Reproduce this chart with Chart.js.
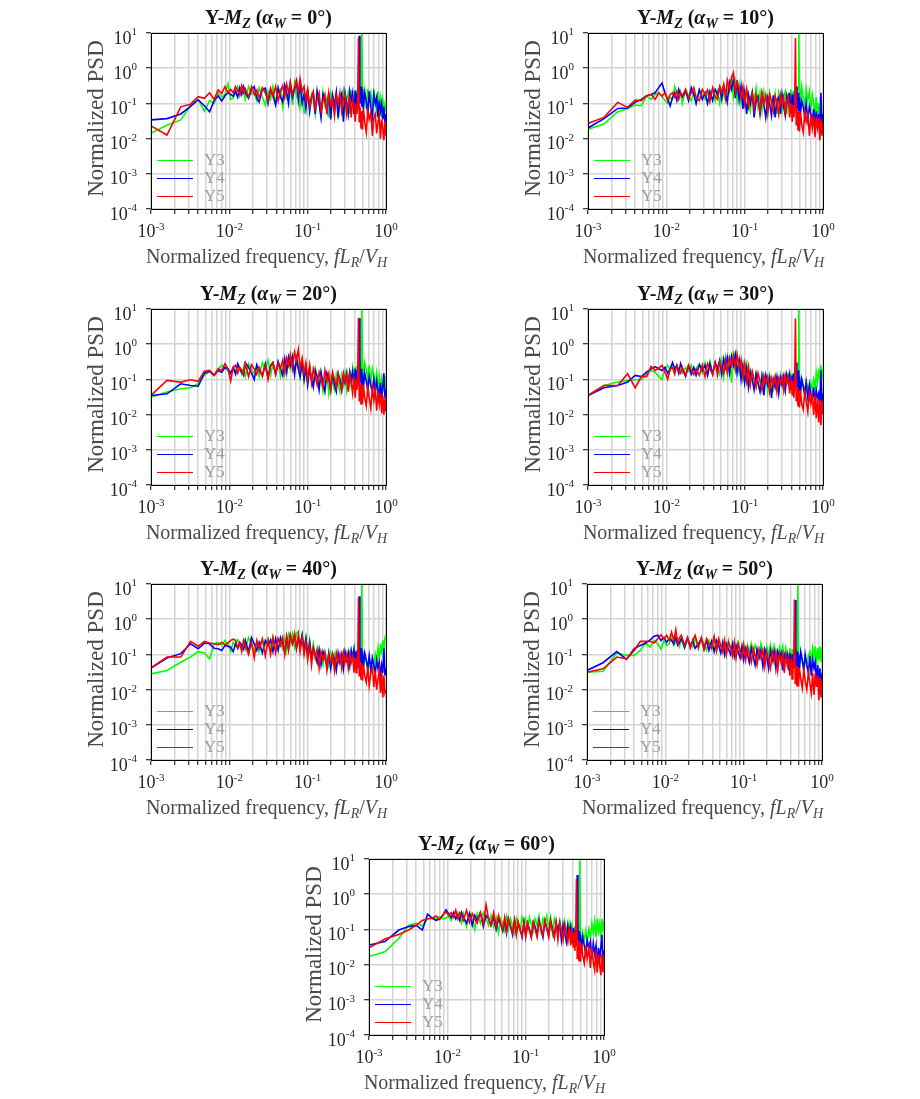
<!DOCTYPE html>
<html><head><meta charset="utf-8">
<script src="https://cdn.jsdelivr.net/npm/chart.js@4.4.0/dist/chart.umd.min.js"></script>
<style>
html,body{margin:0;padding:0;background:#fff;overflow:hidden;}
#wrap{position:relative;width:920px;height:1099px;}
canvas{position:absolute;}
</style></head><body><div id="wrap"></div>
<script>
// ---------- DATA ----------
const freq = [0.001,0.0016,0.0024,0.0032,0.004,0.0048,0.0056,0.0064,0.0072,0.008,
0.0088,0.0096,0.0104,0.0112,0.012,0.0128,0.0136,0.0144,0.0152,0.016,
0.0176,0.0192,0.0208,0.0224,0.024,0.0264,0.0288,0.0312,0.0336,0.036,
0.039,0.042,0.045,0.048,0.051,0.054,0.057,0.06,0.064,0.068,
0.072,0.076,0.08,0.085,0.09,0.095,0.1,0.106,0.112,0.118,
0.125,0.132,0.14,0.148,0.157,0.166,0.176,0.186,0.197,0.208,
0.22,0.232,0.245,0.258,0.272,0.286,0.3,0.315,0.33,0.345,
0.36,0.375,0.39,0.405,0.415,0.425,0.435,0.445,0.455,0.465,
0.48,0.49,0.5,0.515,0.535,0.56,0.585,0.61,0.64,0.67,
0.7,0.73,0.76,0.79,0.82,0.85,0.88,0.91,0.94,0.97,1.0];

const seriesLabels = ['Y3','Y4','Y5'];
const angles = [0,10,20,30,40,50,60];
const xTickValues = [0.001,0.002,0.003,0.004,0.005,0.006,0.007,0.008,0.009,0.01,0.02,0.03,0.04,0.05,0.06,0.07,0.08,0.09,0.1,0.2,0.3,0.4,0.5,0.6,0.7,0.8,0.9,1];
const xTickExps = [-3,-2,-1,0];
const yTickExps = [-4,-3,-2,-1,0,1];

// alpha_W = 0
const Y3_0 = [0.0144,0.024,0.034,0.085,0.13,0.06,0.12,0.1,0.2,0.15,0.18,0.36,0.13,0.14,
0.2,0.3,0.16,0.22,0.26,0.13,0.3,0.18,0.2,0.12,0.28,0.15,0.09,0.22,0.13,0.3,
0.1,0.2,0.25,0.08,0.28,0.14,0.18,0.35,0.09,0.38,0.16,0.22,0.08,0.25,0.05,0.14,0.2,
0.07,0.18,0.12,0.05,0.2,0.1,0.045,0.21,0.09,0.14,0.04,0.19,0.11,0.06,0.2,0.035,0.15,0.1,0.22,0.06,0.13,0.2,0.05,0.24,0.11,0.07,0.23,
0.1,0.25,0.08,0.18,0.3,0.12,0.28,10,0.3,
0.14,0.24,0.07,0.26,0.12,0.2,0.08,0.25,0.1,0.06,0.22,0.09,0.15,0.04,0.12,0.07,0.1,0.06];
const Y4_0 = [0.034,0.037,0.05,0.082,0.127,0.086,0.058,0.12,0.165,0.117,0.165,0.2,0.18,0.16,
0.22,0.15,0.28,0.18,0.3,0.2,0.14,0.25,0.3,0.14,0.11,0.25,0.27,0.1,0.24,0.17,
0.09,0.28,0.15,0.11,0.33,0.2,0.1,0.36,0.15,0.25,0.42,0.12,0.35,0.1,0.18,0.07,0.25,
0.06,0.15,0.2,0.05,0.22,0.1,0.04,0.18,0.12,0.06,0.2,0.035,0.17,0.09,0.21,0.04,0.13,0.19,0.03,0.2,0.1,0.05,0.22,0.12,0.2,0.05,0.23,
0.06,0.2,0.1,0.3,8.4,0.1,0.3,0.08,0.25,
0.07,0.2,0.12,0.05,0.22,0.08,0.04,0.18,0.1,0.15,0.04,0.12,0.06,0.1,0.035,0.08,0.03,0.05];
const Y5_0 = [0.023,0.0126,0.08,0.095,0.155,0.14,0.2,0.13,0.24,0.19,0.3,0.2,0.25,0.2,
0.3,0.22,0.18,0.32,0.2,0.26,0.15,0.3,0.18,0.24,0.14,0.28,0.2,0.12,0.27,0.16,
0.3,0.12,0.22,0.32,0.15,0.35,0.2,0.4,0.18,0.28,0.45,0.2,0.5,0.22,0.3,0.12,0.25,
0.08,0.15,0.22,0.07,0.13,0.2,0.06,0.12,0.18,0.05,0.2,0.09,0.13,0.045,0.17,0.1,0.2,0.06,0.14,0.18,0.05,0.11,0.15,0.04,0.12,0.08,0.03,
0.1,0.05,0.09,7.2,0.03,0.08,0.02,0.06,0.018,
0.07,0.03,0.015,0.06,0.035,0.055,0.012,0.04,0.05,0.014,0.03,0.045,0.01,0.035,0.02,0.009,0.03,0.012];

// alpha_W = 10
const Y3_10 = [0.0186,0.026,0.058,0.07,0.09,0.086,0.16,0.13,0.18,0.2,0.16,0.12,0.1,0.15,
0.13,0.3,0.2,0.15,0.22,0.1,0.25,0.17,0.12,0.2,0.1,0.25,0.18,0.13,0.22,0.11,
0.26,0.12,0.22,0.1,0.25,0.18,0.12,0.3,0.2,0.45,0.15,0.4,0.12,0.35,0.1,0.2,0.15,
0.25,0.1,0.06,0.2,0.13,0.28,0.08,0.2,0.06,0.22,0.12,0.05,0.2,0.1,0.07,0.18,0.05,0.2,0.12,0.06,0.17,0.22,0.05,0.2,0.1,0.25,0.06,
0.22,0.08,0.26,0.12,0.3,0.1,0.25,10,0.35,
0.1,0.3,0.15,0.08,0.25,0.12,0.22,0.06,0.18,0.1,0.05,0.15,0.035,0.1,0.05,0.06,0.03,0.05];
const Y4_10 = [0.02,0.037,0.072,0.074,0.107,0.13,0.165,0.18,0.2,0.28,0.38,0.2,0.13,0.085,
0.15,0.2,0.12,0.25,0.18,0.15,0.22,0.12,0.28,0.18,0.1,0.24,0.13,0.2,0.1,0.22,
0.12,0.25,0.18,0.28,0.13,0.32,0.2,0.11,0.4,0.25,0.5,0.14,0.45,0.12,0.3,0.07,0.2,
0.05,0.18,0.1,0.2,0.04,0.12,0.16,0.05,0.18,0.09,0.04,0.15,0.1,0.045,0.17,0.04,0.12,0.15,0.05,0.18,0.08,0.045,0.16,0.1,0.2,0.05,0.18,
0.06,0.15,0.22,0.1,0.3,0.07,0.2,0.06,0.15,
0.05,0.12,0.08,0.04,0.1,0.035,0.08,0.05,0.03,0.07,0.025,0.06,0.02,0.05,0.022,0.2,0.025,0.05];
const Y5_10 = [0.027,0.04,0.107,0.077,0.124,0.12,0.165,0.18,0.13,0.2,0.16,0.2,0.12,0.18,
0.2,0.15,0.22,0.13,0.2,0.16,0.25,0.14,0.2,0.28,0.15,0.12,0.25,0.18,0.24,0.12,
0.28,0.16,0.13,0.3,0.2,0.35,0.15,0.45,0.25,0.55,0.75,0.2,0.4,0.28,0.15,0.3,0.1,
0.25,0.08,0.14,0.2,0.07,0.18,0.12,0.06,0.2,0.1,0.17,0.055,0.18,0.12,0.06,0.16,0.1,0.05,0.17,0.09,0.15,0.045,0.12,0.16,0.04,0.1,0.03,
0.09,0.04,0.08,7.2,0.025,0.07,0.018,0.06,0.016,
0.06,0.025,0.015,0.055,0.03,0.05,0.012,0.045,0.02,0.045,0.011,0.04,0.02,0.04,0.009,0.035,0.012,0.03];

// alpha_W = 20
const Y3_20 = [0.031,0.044,0.054,0.058,0.075,0.13,0.17,0.13,0.2,0.25,0.2,0.18,0.14,0.2,
0.16,0.25,0.2,0.14,0.22,0.12,0.28,0.18,0.15,0.25,0.12,0.3,0.2,0.35,0.13,0.28,
0.15,0.3,0.12,0.22,0.35,0.14,0.4,0.2,0.45,0.16,0.4,0.25,0.12,0.3,0.09,0.2,0.08,
0.25,0.1,0.07,0.2,0.12,0.06,0.15,0.045,0.1,0.14,0.04,0.12,0.08,0.05,0.14,0.09,0.045,0.13,0.07,0.15,0.05,0.12,0.16,0.06,0.2,0.1,0.22,
0.08,0.25,0.15,0.3,0.12,0.35,0.11,10,0.3,
0.12,0.3,0.18,0.1,0.25,0.08,0.2,0.12,0.07,0.15,0.06,0.12,0.05,0.1,0.045,0.09,0.05,0.12];
const Y4_20 = [0.035,0.039,0.075,0.067,0.064,0.15,0.17,0.13,0.18,0.16,0.22,0.2,0.15,0.22,
0.14,0.28,0.2,0.16,0.13,0.3,0.22,0.15,0.1,0.26,0.18,0.13,0.28,0.12,0.25,0.3,
0.14,0.32,0.2,0.13,0.38,0.17,0.42,0.25,0.45,0.14,0.38,0.2,0.12,0.3,0.1,0.22,0.07,
0.2,0.1,0.06,0.18,0.12,0.05,0.16,0.08,0.045,0.15,0.1,0.05,0.14,0.07,0.045,0.15,0.1,0.05,0.13,0.08,0.15,0.05,0.16,0.1,0.17,0.06,0.2,
0.06,0.18,0.1,0.2,5.5,0.08,0.2,0.07,0.15,
0.06,0.15,0.09,0.05,0.12,0.07,0.045,0.1,0.04,0.09,0.05,0.035,0.08,0.03,0.06,0.15,0.03,0.05];
const Y5_20 = [0.035,0.094,0.084,0.098,0.088,0.17,0.18,0.13,0.2,0.18,0.28,0.2,0.09,0.22,
0.25,0.15,0.22,0.18,0.14,0.28,0.12,0.26,0.2,0.14,0.22,0.12,0.25,0.1,0.24,0.3,
0.14,0.28,0.2,0.35,0.15,0.4,0.25,0.5,0.2,0.6,0.35,0.7,0.2,0.4,0.15,0.3,0.1,
0.25,0.08,0.2,0.12,0.07,0.16,0.1,0.06,0.18,0.09,0.15,0.05,0.16,0.1,0.06,0.14,0.08,0.05,0.15,0.09,0.14,0.045,0.13,0.08,0.04,0.12,0.03,
0.1,0.05,0.09,5.6,0.025,0.08,0.02,0.07,0.02,
0.07,0.03,0.018,0.06,0.03,0.015,0.055,0.025,0.05,0.013,0.045,0.02,0.04,0.011,0.035,0.01,0.03,0.012];

// alpha_W = 30
const Y3_30 = [0.035,0.067,0.084,0.094,0.098,0.098,0.145,0.18,0.16,0.12,0.098,0.2,0.25,0.18,
0.22,0.16,0.25,0.2,0.18,0.15,0.22,0.17,0.25,0.14,0.2,0.28,0.15,0.3,0.14,0.32,
0.15,0.3,0.22,0.14,0.35,0.12,0.4,0.15,0.5,0.08,0.65,0.2,0.5,0.15,0.35,0.1,0.2,
0.3,0.07,0.18,0.1,0.06,0.15,0.09,0.05,0.14,0.08,0.12,0.045,0.13,0.07,0.05,0.12,0.08,0.045,0.13,0.07,0.12,0.05,0.14,0.09,0.06,0.13,0.1,
0.15,0.06,0.16,0.1,0.18,0.06,0.15,10,0.12,
0.05,0.1,0.07,0.04,0.09,0.06,0.04,0.08,0.05,0.1,0.06,0.15,0.08,0.2,0.1,0.25,0.12,0.2];
const Y4_30 = [0.035,0.058,0.067,0.084,0.13,0.12,0.16,0.2,0.23,0.2,0.18,0.22,0.15,0.2,
0.3,0.2,0.25,0.15,0.28,0.2,0.12,0.25,0.14,0.22,0.13,0.26,0.18,0.25,0.13,0.28,
0.14,0.3,0.2,0.35,0.14,0.38,0.22,0.42,0.15,0.45,0.25,0.5,0.15,0.35,0.1,0.25,0.08,
0.2,0.06,0.16,0.1,0.05,0.14,0.08,0.045,0.12,0.035,0.13,0.07,0.11,0.03,0.1,0.06,0.12,0.04,0.11,0.07,0.12,0.05,0.13,0.08,0.14,0.05,0.13,
0.045,0.15,0.05,0.2,0.3,0.06,0.18,0.05,0.12,
0.04,0.1,0.06,0.035,0.08,0.03,0.07,0.04,0.025,0.06,0.02,0.05,0.03,0.04,0.015,0.18,0.02,0.04];
const Y5_30 = [0.035,0.067,0.067,0.145,0.058,0.12,0.12,0.235,0.18,0.21,0.25,0.16,0.1,0.2,
0.22,0.14,0.25,0.18,0.15,0.22,0.13,0.25,0.18,0.14,0.2,0.13,0.26,0.12,0.28,0.2,
0.14,0.3,0.13,0.32,0.2,0.15,0.35,0.16,0.4,0.25,0.45,0.2,0.5,0.22,0.35,0.12,0.28,
0.09,0.22,0.07,0.17,0.1,0.06,0.15,0.09,0.05,0.13,0.08,0.12,0.045,0.11,0.07,0.12,0.045,0.11,0.08,0.12,0.05,0.13,0.08,0.12,0.04,0.1,0.035,
0.09,0.03,0.08,5.4,0.025,0.06,0.018,0.05,0.016,
0.05,0.02,0.014,0.045,0.025,0.012,0.04,0.02,0.035,0.01,0.035,0.008,0.03,0.006,0.025,0.005,0.025,0.01];

// alpha_W = 40
const Y3_40 = [0.028,0.035,0.06,0.084,0.12,0.11,0.075,0.2,0.22,0.18,0.25,0.2,0.12,0.22,
0.18,0.26,0.2,0.15,0.25,0.14,0.3,0.2,0.13,0.22,0.12,0.25,0.18,0.28,0.14,0.3,
0.15,0.28,0.2,0.14,0.3,0.13,0.35,0.2,0.38,0.16,0.4,0.45,0.18,0.35,0.12,0.3,0.1,
0.25,0.08,0.2,0.1,0.06,0.15,0.08,0.05,0.12,0.07,0.045,0.11,0.06,0.1,0.04,0.09,0.06,0.1,0.04,0.11,0.07,0.12,0.05,0.12,0.08,0.14,0.05,
0.13,0.06,0.14,0.08,0.15,0.05,0.14,10,0.1,
0.04,0.09,0.06,0.035,0.08,0.05,0.07,0.04,0.1,0.06,0.15,0.07,0.2,0.1,0.25,0.12,0.3,0.25];
const Y4_40 = [0.041,0.079,0.105,0.2,0.145,0.21,0.2,0.15,0.145,0.13,0.18,0.17,0.16,0.12,
0.2,0.15,0.22,0.18,0.14,0.25,0.12,0.3,0.2,0.13,0.22,0.11,0.25,0.18,0.26,0.12,
0.28,0.13,0.3,0.2,0.12,0.3,0.14,0.35,0.2,0.35,0.15,0.3,0.16,0.35,0.13,0.28,0.1,
0.22,0.08,0.15,0.1,0.06,0.13,0.05,0.12,0.08,0.045,0.11,0.04,0.1,0.07,0.035,0.11,0.06,0.1,0.04,0.12,0.07,0.11,0.05,0.13,0.08,0.14,0.05,
0.12,0.05,0.13,0.06,4.5,0.06,0.15,0.05,0.12,
0.045,0.11,0.07,0.04,0.09,0.035,0.08,0.05,0.03,0.07,0.04,0.06,0.025,0.05,0.03,0.15,0.025,0.04];
const Y5_40 = [0.041,0.084,0.084,0.235,0.17,0.235,0.21,0.2,0.19,0.22,0.19,0.21,0.25,0.27,
0.25,0.15,0.2,0.12,0.25,0.18,0.1,0.22,0.08,0.25,0.15,0.28,0.09,0.25,0.1,0.3,
0.11,0.28,0.18,0.3,0.1,0.32,0.14,0.35,0.2,0.38,0.15,0.35,0.12,0.3,0.1,0.22,0.07,
0.18,0.05,0.15,0.08,0.14,0.04,0.12,0.07,0.11,0.035,0.1,0.06,0.1,0.035,0.11,0.06,0.1,0.04,0.11,0.06,0.1,0.04,0.1,0.06,0.09,0.03,0.08,
0.03,0.08,0.04,4.1,0.025,0.06,0.02,0.055,0.018,
0.05,0.025,0.016,0.045,0.013,0.03,0.04,0.012,0.035,0.01,0.02,0.035,0.008,0.03,0.006,0.025,0.008,0.01];

// alpha_W = 50
const Y3_50 = [0.031,0.033,0.11,0.094,0.094,0.13,0.21,0.16,0.25,0.2,0.14,0.25,0.18,0.2,
0.3,0.18,0.22,0.28,0.17,0.3,0.15,0.25,0.2,0.16,0.3,0.14,0.28,0.2,0.13,0.25,
0.14,0.3,0.12,0.25,0.18,0.12,0.22,0.1,0.25,0.15,0.12,0.2,0.1,0.22,0.14,0.11,0.2,
0.09,0.18,0.12,0.2,0.08,0.18,0.13,0.08,0.2,0.12,0.07,0.17,0.1,0.18,0.07,0.18,0.11,0.06,0.16,0.1,0.17,0.06,0.15,0.09,0.06,0.15,0.05,
0.14,0.08,0.13,0.05,0.15,0.05,0.13,9,0.1,
0.04,0.1,0.06,0.035,0.08,0.05,0.09,0.12,0.06,0.15,0.08,0.17,0.05,0.15,0.07,0.17,0.06,0.16];
const Y4_50 = [0.035,0.058,0.12,0.072,0.145,0.18,0.21,0.26,0.33,0.35,0.25,0.3,0.22,0.28,
0.25,0.2,0.3,0.18,0.22,0.28,0.16,0.3,0.17,0.25,0.15,0.2,0.28,0.14,0.25,0.13,
0.24,0.12,0.25,0.18,0.11,0.22,0.1,0.2,0.14,0.1,0.2,0.09,0.18,0.12,0.08,0.17,0.07,
0.15,0.1,0.06,0.15,0.09,0.05,0.14,0.08,0.13,0.045,0.14,0.09,0.04,0.13,0.07,0.12,0.04,0.12,0.08,0.11,0.035,0.1,0.07,0.1,0.035,0.11,0.03,
0.1,0.05,0.11,0.04,3.5,0.04,0.12,0.035,0.1,
0.04,0.12,0.07,0.035,0.1,0.05,0.03,0.09,0.025,0.07,0.04,0.06,0.018,0.05,0.015,0.04,0.012,0.03];
const Y5_50 = [0.031,0.039,0.084,0.075,0.13,0.235,0.235,0.235,0.21,0.28,0.36,0.28,0.35,0.25,
0.43,0.25,0.5,0.2,0.3,0.35,0.18,0.3,0.15,0.25,0.35,0.16,0.3,0.14,0.28,0.2,
0.15,0.32,0.13,0.28,0.18,0.12,0.25,0.1,0.22,0.15,0.09,0.22,0.08,0.2,0.12,0.08,0.18,
0.07,0.16,0.1,0.06,0.15,0.09,0.05,0.14,0.08,0.13,0.045,0.12,0.07,0.04,0.12,0.06,0.11,0.035,0.1,0.06,0.1,0.03,0.09,0.05,0.08,0.025,0.075,
0.02,0.06,0.04,3.6,0.015,0.05,0.013,0.045,0.012,
0.04,0.02,0.011,0.035,0.018,0.01,0.032,0.015,0.008,0.03,0.007,0.028,0.012,0.025,0.005,0.022,0.006,0.02];

// alpha_W = 60
const Y3_60 = [0.017,0.023,0.055,0.13,0.15,0.125,0.2,0.2,0.2,0.23,0.2,0.21,0.24,0.18,
0.28,0.2,0.3,0.22,0.15,0.28,0.12,0.3,0.2,0.1,0.28,0.15,0.3,0.2,0.13,0.25,
0.12,0.22,0.08,0.2,0.14,0.09,0.22,0.1,0.2,0.13,0.08,0.2,0.12,0.09,0.22,0.14,0.2,
0.1,0.22,0.14,0.09,0.2,0.13,0.24,0.09,0.2,0.14,0.24,0.1,0.22,0.08,0.2,0.12,0.08,0.18,0.1,0.06,0.17,0.1,0.05,0.15,0.08,0.13,0.045,
0.12,0.06,0.12,0.04,0.13,0.05,0.12,9,0.08,
0.035,0.08,0.05,0.09,0.04,0.1,0.06,0.15,0.08,0.17,0.06,0.2,0.09,0.15,0.06,0.2,0.1,0.17];
const Y4_60 = [0.036,0.045,0.096,0.12,0.13,0.096,0.27,0.21,0.18,0.2,0.25,0.36,0.28,0.22,
0.3,0.2,0.25,0.18,0.3,0.22,0.15,0.28,0.13,0.25,0.18,0.3,0.12,0.25,0.2,0.13,
0.22,0.1,0.2,0.14,0.09,0.18,0.08,0.2,0.12,0.07,0.18,0.08,0.15,0.1,0.06,0.16,0.07,
0.15,0.1,0.06,0.16,0.12,0.07,0.18,0.1,0.06,0.17,0.11,0.07,0.18,0.1,0.06,0.16,0.09,0.15,0.05,0.14,0.08,0.045,0.13,0.07,0.12,0.04,0.11,
0.035,0.1,0.05,0.035,3.5,0.035,0.09,0.03,0.07,
0.025,0.06,0.035,0.02,0.05,0.03,0.045,0.015,0.04,0.02,0.035,0.01,0.03,0.015,0.03,0.07,0.012,0.025];
const Y5_60 = [0.03,0.053,0.072,0.096,0.13,0.18,0.2,0.21,0.24,0.19,0.26,0.32,0.25,0.3,
0.22,0.35,0.2,0.3,0.25,0.18,0.35,0.16,0.28,0.2,0.15,0.3,0.14,0.5,0.2,0.13,
0.3,0.12,0.25,0.15,0.1,0.22,0.09,0.2,0.13,0.08,0.18,0.07,0.17,0.1,0.07,0.16,0.06,
0.15,0.09,0.06,0.16,0.1,0.06,0.17,0.11,0.07,0.18,0.1,0.06,0.17,0.09,0.06,0.16,0.05,0.15,0.09,0.05,0.14,0.08,0.045,0.12,0.035,0.1,0.03,
0.08,0.025,0.06,2.7,0.015,0.05,0.013,0.045,0.012,
0.04,0.018,0.011,0.035,0.015,0.03,0.008,0.03,0.012,0.007,0.025,0.006,0.02,0.01,0.005,0.02,0.006,0.018];

const panelSeries = [
  [Y3_0, Y4_0, Y5_0], [Y3_10, Y4_10, Y5_10], [Y3_20, Y4_20, Y5_20],
  [Y3_30, Y4_30, Y5_30], [Y3_40, Y4_40, Y5_40], [Y3_50, Y4_50, Y5_50],
  [Y3_60, Y4_60, Y5_60]
];

// ---------- LAYOUT / STYLE ----------
const plotPos = [[151,33],[588,33],[151,309],[588,309],[151,584],[587,584],[369,859]];
const PAD_L = 80, PAD_T = 33, PAD_R = 15, PAD_B = 65, PW = 235, PH = 176;
const colors = ['#00ff00','#0000ff','#ff0000'];
const SERIF = '"Liberation Serif","Times New Roman",serif';

function drawRich(ctx, parts, x, y, align) {
  let w = 0;
  parts.forEach(p => { ctx.font = p.f; p.w = ctx.measureText(p.t).width; w += p.w; });
  let cx = align === 'center' ? x - w / 2 : (align === 'right' ? x - w : x);
  ctx.textAlign = 'left'; ctx.textBaseline = 'alphabetic';
  parts.forEach(p => { ctx.font = p.f; ctx.fillText(p.t, cx, y + (p.dy || 0)); cx += p.w; });
}

const decor = {
  id: 'decor',
  afterDraw(chart, args, o) {
    const ctx = chart.ctx, a = chart.chartArea;
    const xs = chart.scales.x, ys = chart.scales.y;
    ctx.save();
    ctx.strokeStyle = '#000'; ctx.lineWidth = 1;
    ctx.strokeRect(Math.round(a.left) + 0.5, Math.round(a.top) + 0.5,
                   Math.round(a.right - a.left), Math.round(a.bottom - a.top));
    ctx.fillStyle = '#262626';
    yTickExps.forEach(e => {
      const y = ys.getPixelForValue(Math.pow(10, e));
      drawRich(ctx, [{t: '10', f: `18px ${SERIF}`}, {t: String(e), f: `11px ${SERIF}`, dy: -8.5}],
               a.left - 14, y + 10.5, 'right');
    });
    xTickExps.forEach(e => {
      const x = xs.getPixelForValue(Math.pow(10, e));
      drawRich(ctx, [{t: '10', f: `18px ${SERIF}`}, {t: String(e), f: `11px ${SERIF}`, dy: -7}],
               x, a.bottom + 27.5, 'center');
    });
    ctx.fillStyle = '#4a4a4a';
    drawRich(ctx, [
      {t: 'Normalized frequency, ', f: `20px ${SERIF}`},
      {t: 'f', f: `italic 20px ${SERIF}`},
      {t: 'L', f: `italic 20px ${SERIF}`},
      {t: 'R', f: `italic 14px ${SERIF}`, dy: 4},
      {t: '/', f: `20px ${SERIF}`},
      {t: 'V', f: `italic 20px ${SERIF}`},
      {t: 'H', f: `italic 14px ${SERIF}`, dy: 4}
    ], (a.left + a.right) / 2 - 2, a.bottom + 54, 'center');
    ctx.save();
    ctx.translate(a.left - 48.3, (a.top + a.bottom) / 2 - 2.5);
    ctx.rotate(-Math.PI / 2);
    ctx.font = `23px ${SERIF}`; ctx.textAlign = 'center'; ctx.textBaseline = 'alphabetic';
    ctx.fillText('Normalized PSD', 0, 0);
    ctx.restore();
    ctx.fillStyle = '#111';
    drawRich(ctx, [
      {t: 'Y-', f: `bold 20px ${SERIF}`},
      {t: 'M', f: `italic bold 20px ${SERIF}`},
      {t: 'Z', f: `italic bold 14px ${SERIF}`, dy: 4},
      {t: ' (', f: `bold 20px ${SERIF}`},
      {t: 'α', f: `italic bold 20px ${SERIF}`},
      {t: 'W', f: `italic bold 14px ${SERIF}`, dy: 4},
      {t: ` = ${o.angle}°)`, f: `bold 20px ${SERIF}`}
    ], (a.left + a.right) / 2, a.top - 9.5, 'center');
    const offs = [48.6, 30.6, 13];
    chart.data.datasets.forEach((ds, i) => {
      const y = Math.round(a.bottom - offs[i]) + 0.5;
      ctx.strokeStyle = ds.borderColor; ctx.lineWidth = 1.2;
      ctx.beginPath(); ctx.moveTo(a.left + 6, y); ctx.lineTo(a.left + 42, y); ctx.stroke();
      ctx.fillStyle = '#a0a0a0'; ctx.font = `17px ${SERIF}`;
      ctx.textAlign = 'left'; ctx.textBaseline = 'middle';
      ctx.fillText(ds.label, a.left + 53, y + 0.5);
    });
    ctx.restore();
  }
};

const wrap = document.getElementById('wrap');
panelSeries.forEach((ser, p) => {
  const [L, T] = plotPos[p];
  const cv = document.createElement('canvas');
  cv.width = PAD_L + PW + PAD_R; cv.height = PAD_T + PH + PAD_B;
  cv.style.left = (L - PAD_L) + 'px'; cv.style.top = (T - PAD_T) + 'px';
  cv.style.width = cv.width + 'px'; cv.style.height = cv.height + 'px';
  wrap.appendChild(cv);
  const datasets = ser.map((vals, i) => ({
    label: seriesLabels[i],
    data: freq.slice(0, vals.length).map((f, k) => ({x: f, y: vals[k]})),
    borderColor: colors[i], backgroundColor: colors[i],
    borderWidth: 1.6, pointRadius: 0, tension: 0, fill: false,
    order: 3 - i
  }));
  new Chart(cv, {
    type: 'line',
    data: {datasets},
    options: {
      responsive: false, animation: false, devicePixelRatio: 1, events: [],
      layout: {padding: {left: 0, top: PAD_T, right: PAD_R, bottom: 0}},
      plugins: {legend: {display: false}, tooltip: {enabled: false}, decor: {angle: angles[p]}},
      scales: {
        x: {
          type: 'logarithmic', min: 0.001, max: 1, position: 'bottom',
          afterFit: s => { s.height = PAD_B; },
          afterBuildTicks: s => { s.ticks = xTickValues.map(v => ({value: v})); },
          ticks: {display: false, autoSkip: false},
          grid: {color: '#d4d4d4', lineWidth: 1.5, drawTicks: true, tickLength: 5, tickColor: '#000', tickWidth: 1},
          border: {display: true, color: '#000', width: 1}
        },
        y: {
          type: 'logarithmic', min: 1e-4, max: 10, position: 'left',
          afterFit: s => { s.width = PAD_L; },
          afterBuildTicks: s => { s.ticks = yTickExps.map(e => ({value: Math.pow(10, e)})); },
          ticks: {display: false, autoSkip: false},
          grid: {color: '#d4d4d4', lineWidth: 1.5, drawTicks: true, tickLength: 5, tickColor: '#000', tickWidth: 1},
          border: {display: true, color: '#000', width: 1}
        }
      }
    },
    plugins: [decor]
  });
});
</script>
</body></html>
